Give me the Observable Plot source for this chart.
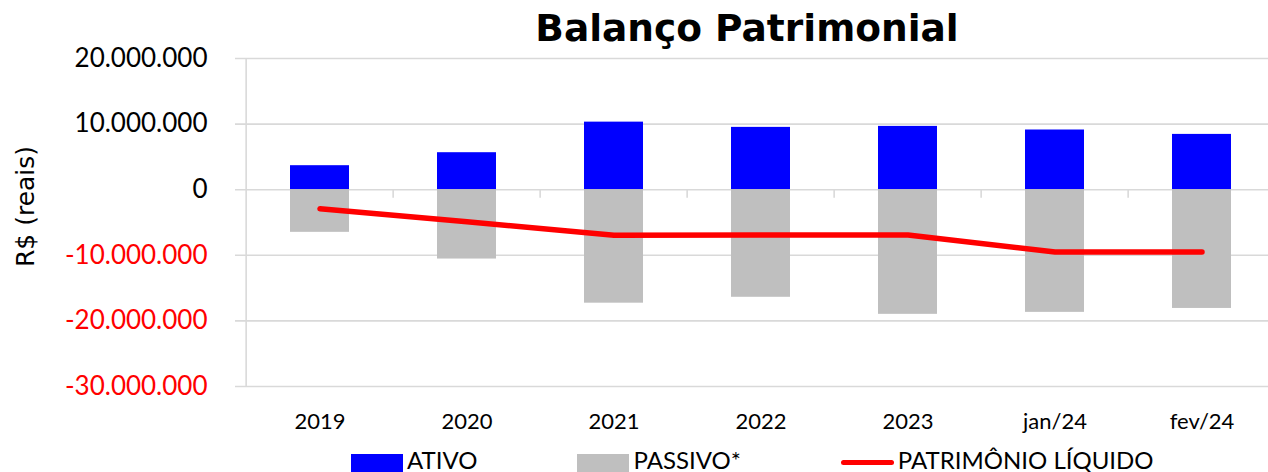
<!DOCTYPE html>
<html><head><meta charset="utf-8">
<script src="https://cdn.jsdelivr.net/npm/d3@7"></script>
<script src="https://cdn.jsdelivr.net/npm/@observablehq/plot@0.6"></script>
<style>
body{margin:0;background:#fff;font-family:Lato, sans-serif;}
#wrap{position:relative;width:1268px;height:472px;overflow:hidden;background:#fff;}
#legend{position:absolute;left:351px;top:448px;display:flex;align-items:flex-start;font-family:Lato, sans-serif;font-size:24px;line-height:24px;color:#000;white-space:nowrap;}
.item{display:flex;align-items:flex-start;margin-right:100px;}
.sw{width:52px;height:20px;margin-top:6px;margin-right:4px;}
.ln{width:53px;height:5px;border-radius:3px;margin-top:12px;margin-right:4px;}
</style></head><body>
<div id="wrap"><div id="chart"></div><div id="legend"></div></div>
<script>
const categories = ["2019", "2020", "2021", "2022", "2023", "jan/24", "fev/24"];
const ativo = [3660000, 5640000, 10300000, 9500000, 9650000, 9100000, 8430000];
const passivo = [-6500000, -10570000, -17300000, -16400000, -19000000, -18700000, -18100000];
const patrimonio = [-2900000, -4900000, -6950000, -6900000, -6900000, -9500000, -9500000];
const yTicks = [20000000, 10000000, 0, -10000000, -20000000, -30000000];
const seriesNames = ["ATIVO", "PASSIVO*", "PATRIMÔNIO LÍQUIDO"];
const seriesColors = ["#0000ff", "#bfbfbf", "#ff0000"];
const title = "Balanço Patrimonial";
const yLabel = "R$ (reais)";

const fmt = d3.formatLocale({decimal: ",", thousands: ".", grouping: [3], currency: ["R$ ", ""], minus: "-"}).format(",d");
const data = categories.map((c, i) => ({cat: c, ativo: ativo[i], passivo: passivo[i], pl: patrimonio[i]}));
const xRange = [243, 1277];
const step = (xRange[1] - xRange[0]) / categories.length;
const grid = "#d9d9d9";

const chart = Plot.plot({
  width: 1268, height: 472,
  marginLeft: 243, marginRight: 0, marginTop: 58, marginBottom: 86,
  x: {domain: categories, range: xRange, paddingInner: 0.6, paddingOuter: 0.3, axis: null},
  y: {domain: [-30000000, 20000000], axis: null},
  style: {fontFamily: "Lato, sans-serif", background: "white", color: "black"},
  marks: [
    Plot.ruleY(yTicks, {y: d => d, stroke: grid, strokeWidth: 1.6, insetLeft: -8}),
    Plot.ruleX(categories.slice(0, 1), {x: d => d, dx: -step / 2, y1: -30000000, y2: 20000000, stroke: grid, strokeWidth: 1.6}),
    Plot.ruleX(categories.slice(1), {x: d => d, dx: -step / 2, y1: 0, y2: -1300000, stroke: grid, strokeWidth: 1.6}),
    Plot.barY(data, {x: "cat", y1: 0, y2: "ativo", fill: seriesColors[0]}),
    Plot.barY(data, {x: "cat", y1: 0, y2: "passivo", fill: seriesColors[1]}),
    Plot.line(data, {x: "cat", y: "pl", stroke: seriesColors[2], strokeWidth: 5.5, strokeLinecap: "round", strokeLinejoin: "round"}),
    Plot.text(yTicks, {y: d => d, text: d => fmt(d), frameAnchor: "left", dx: -36, textAnchor: "end", fontSize: 26, fill: d => d < 0 ? "#ff0000" : "#000000"}),
    Plot.text(categories, {x: d => d, text: d => d, frameAnchor: "bottom", lineAnchor: "middle", dy: 35, fontSize: 22, fill: "#000000"}),
    Plot.text([yLabel], {text: d => d, frameAnchor: "left", textAnchor: "middle", lineAnchor: "middle", dx: -218, dy: -16, rotate: -90, fontSize: 25, fontFamily: "DejaVu Sans", fill: "#000000"}),
    Plot.text([title], {text: d => d, frameAnchor: "top", textAnchor: "middle", lineAnchor: "middle", dx: -9, dy: -30, fontSize: 37.5, fontWeight: "bold", fontFamily: "DejaVu Sans", fill: "#000000"})
  ]
});
document.getElementById("chart").appendChild(chart);

const legend = document.getElementById("legend");
seriesNames.forEach((name, i) => {
  const item = document.createElement("div");
  item.className = "item";
  const sw = document.createElement("div");
  sw.className = i < 2 ? "sw" : "ln";
  sw.style.background = seriesColors[i];
  const t = document.createElement("span");
  t.textContent = name;
  item.appendChild(sw); item.appendChild(t);
  legend.appendChild(item);
});
</script>
</body></html>
